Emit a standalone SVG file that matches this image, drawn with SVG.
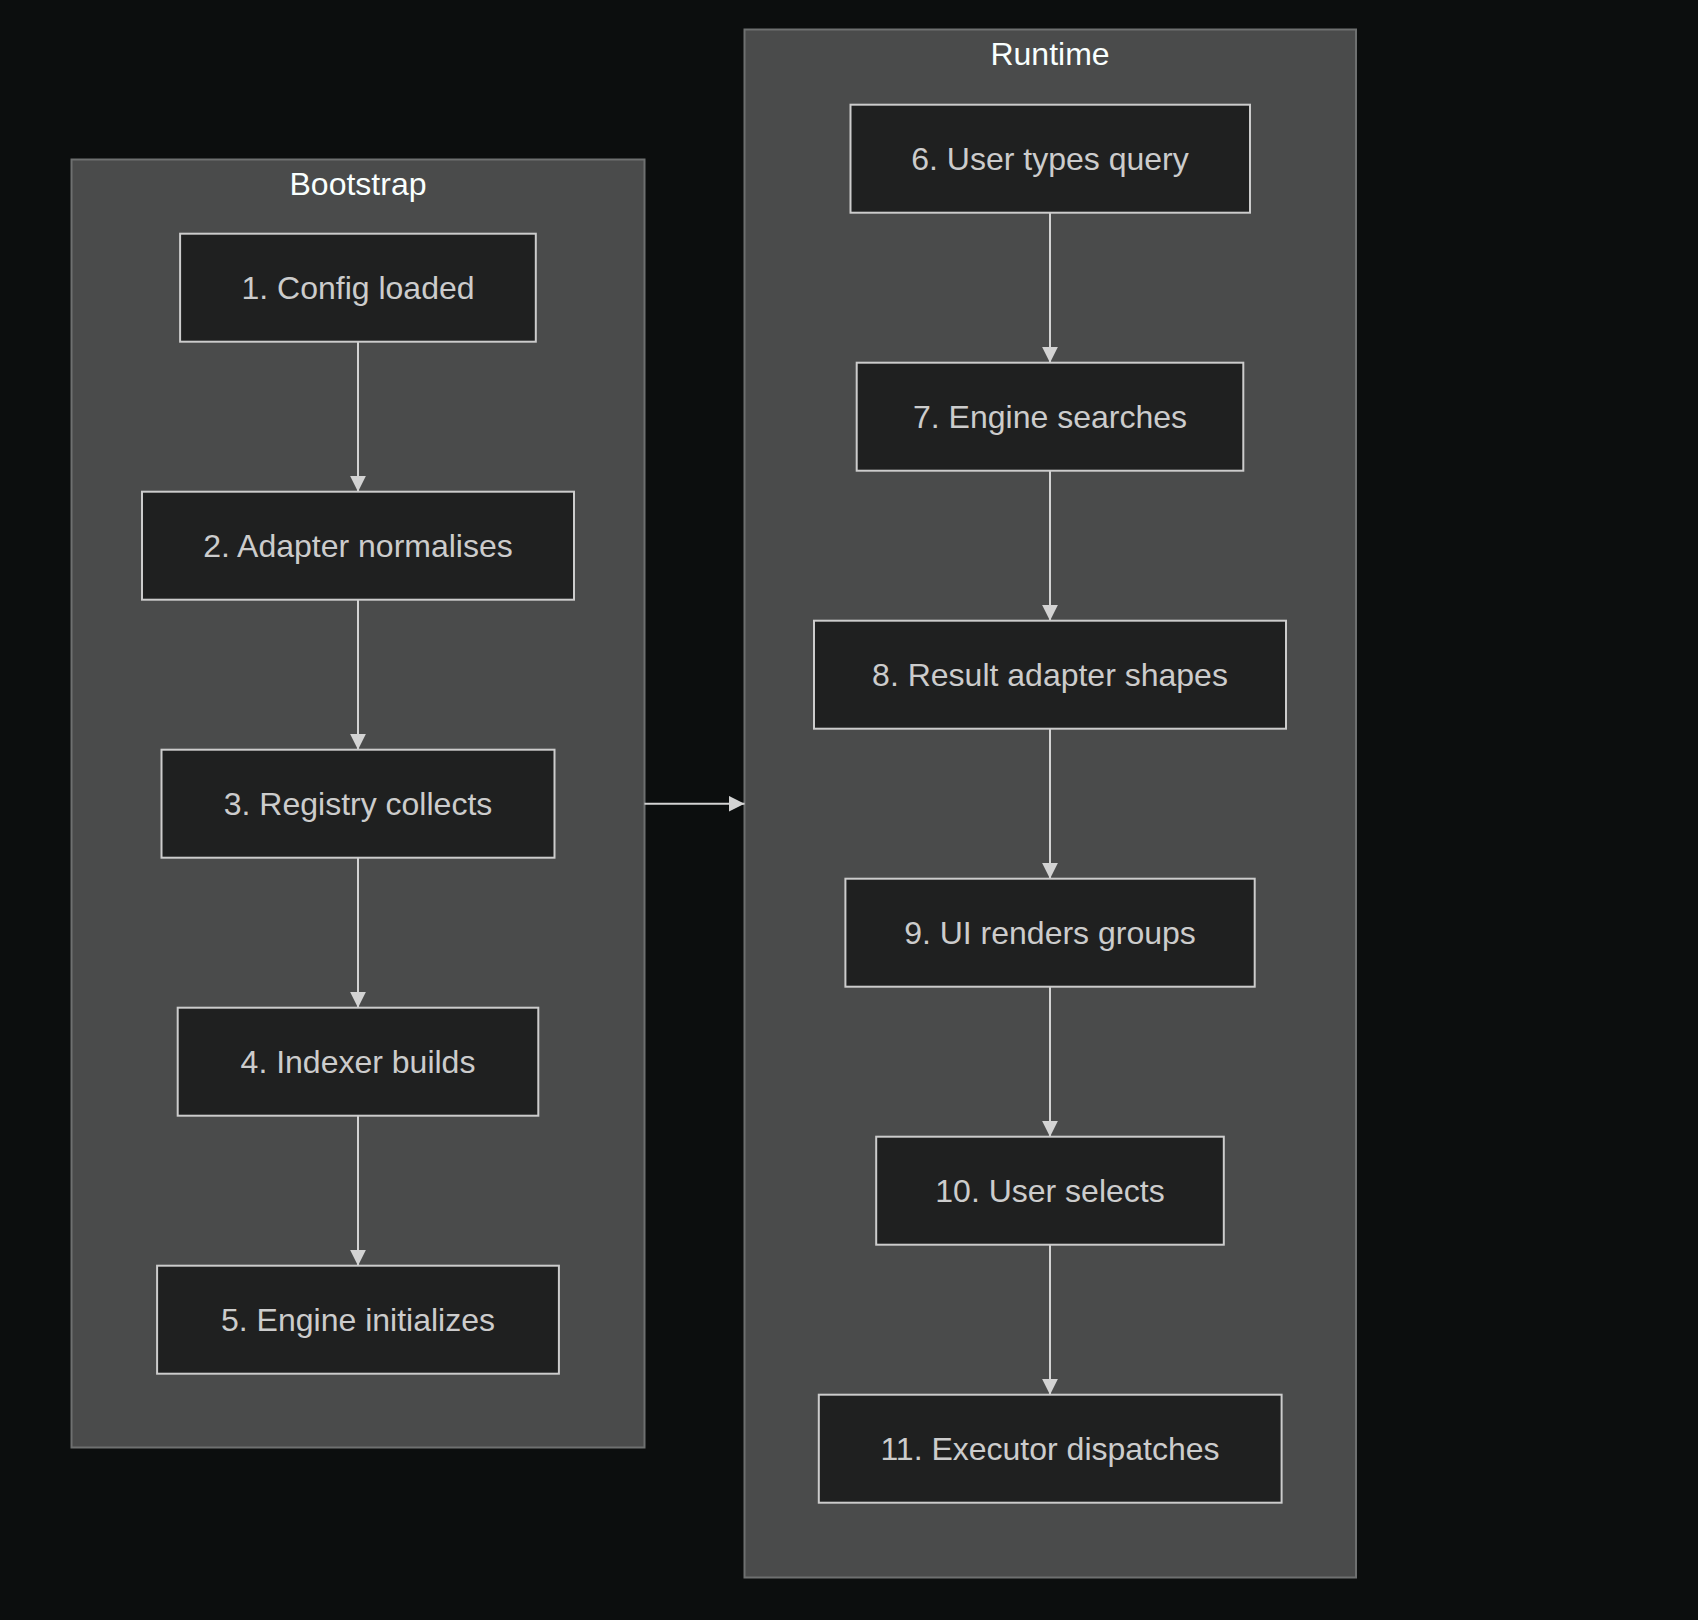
<svg xmlns="http://www.w3.org/2000/svg" width="1698" height="1620" viewBox="0 0 1698 1620">
<defs>
<marker id="arrow" viewBox="0 0 10 10" refX="10" refY="5" markerUnits="userSpaceOnUse" markerWidth="16" markerHeight="16" orient="auto">
<path d="M0,0 L10,5 L0,10 z" fill="#d3d3d3"/>
</marker>
</defs>
<style>
.cluster rect{fill:#4a4b4b;stroke:#6e7070;stroke-width:2}
.cluster text{fill:#f9fffe;font-family:"Liberation Sans",Arial,sans-serif;font-size:32px;text-anchor:middle}
.node rect{fill:#1f2020;stroke:#cccccc;stroke-width:2}
.node text{fill:#cccccc;font-family:"Liberation Sans",Arial,sans-serif;font-size:32px;text-anchor:middle}
.edge{stroke:#d3d3d3;stroke-width:2;fill:none;marker-end:url(#arrow)}
</style>
<rect x="0" y="0" width="1698" height="1620" fill="#0c0e0e"/>
<g id="cluster-bootstrap" class="cluster">
<rect x="71.5" y="159.5" width="573" height="1288"/>
<text x="358" y="195">Bootstrap</text>
</g>
<g id="cluster-runtime" class="cluster">
<rect x="744.5" y="29.5" width="611.5" height="1548"/>
<text x="1050" y="65">Runtime</text>
</g>
<g id="connectors">
<line class="edge" x1="358" y1="341.7" x2="358" y2="491.7"/>
<line class="edge" x1="358" y1="599.7" x2="358" y2="749.7"/>
<line class="edge" x1="358" y1="857.7" x2="358" y2="1007.7"/>
<line class="edge" x1="358" y1="1115.7" x2="358" y2="1265.7"/>
<line class="edge" x1="644.5" y1="803.7" x2="744.5" y2="803.7"/>
<line class="edge" x1="1050" y1="212.7" x2="1050" y2="362.7"/>
<line class="edge" x1="1050" y1="470.7" x2="1050" y2="620.7"/>
<line class="edge" x1="1050" y1="728.7" x2="1050" y2="878.7"/>
<line class="edge" x1="1050" y1="986.7" x2="1050" y2="1136.7"/>
<line class="edge" x1="1050" y1="1244.7" x2="1050" y2="1394.7"/>
</g>
<g id="node-1" class="node">
<rect x="180.1" y="233.7" width="355.7" height="108"/>
<text x="358" y="299.2">1. Config loaded</text>
</g>
<g id="node-2" class="node">
<rect x="142" y="491.7" width="432" height="108"/>
<text x="358" y="557.2">2. Adapter normalises</text>
</g>
<g id="node-3" class="node">
<rect x="161.5" y="749.7" width="393" height="108"/>
<text x="358" y="815.2">3. Registry collects</text>
</g>
<g id="node-4" class="node">
<rect x="177.7" y="1007.7" width="360.6" height="108"/>
<text x="358" y="1073.2">4. Indexer builds</text>
</g>
<g id="node-5" class="node">
<rect x="157.1" y="1265.7" width="401.8" height="108"/>
<text x="358" y="1331.2">5. Engine initializes</text>
</g>
<g id="node-6" class="node">
<rect x="850.5" y="104.7" width="399.5" height="108"/>
<text x="1050" y="170.2">6. User types query</text>
</g>
<g id="node-7" class="node">
<rect x="856.7" y="362.7" width="386.6" height="108"/>
<text x="1050" y="428.2">7. Engine searches</text>
</g>
<g id="node-8" class="node">
<rect x="814" y="620.7" width="472" height="108"/>
<text x="1050" y="686.2">8. Result adapter shapes</text>
</g>
<g id="node-9" class="node">
<rect x="845.4" y="878.7" width="409.3" height="108"/>
<text x="1050" y="944.2">9. UI renders groups</text>
</g>
<g id="node-10" class="node">
<rect x="876.2" y="1136.7" width="347.6" height="108"/>
<text x="1050" y="1202.2">10. User selects</text>
</g>
<g id="node-11" class="node">
<rect x="818.8" y="1394.7" width="462.8" height="108"/>
<text x="1050" y="1460.2">11. Executor dispatches</text>
</g>
</svg>
